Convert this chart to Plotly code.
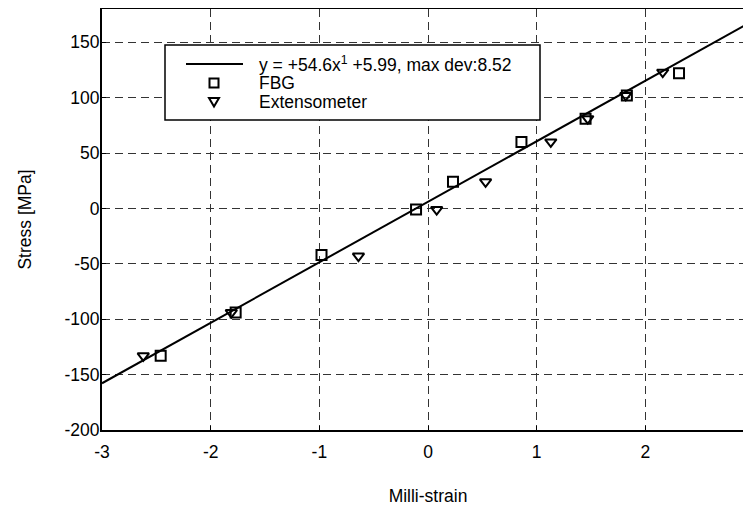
import plotly.graph_objects as go

# Data
fbg_strain = [-2.46, -1.77, -0.98, -0.11, 0.23, 0.86, 1.45, 1.83, 2.31]
fbg_stress = [-133, -94, -42, -1, 24, 60, 81, 102, 122]
ext_strain = [-2.62, -1.81, -0.64, 0.08, 0.53, 1.13, 1.47, 1.82, 2.16]
ext_stress = [-133, -94, -43, -1, 24, 60, 81, 102, 123]

fit_slope = 54.6
fit_intercept = 5.99
fit_x = [-3, 3]
fit_y = [fit_slope * x + fit_intercept for x in fit_x]

x_ticks = [-3, -2, -1, 0, 1, 2, 3]
x_ticktext = ["-3", "-2", "-1", "0", "1", "2", "3"]
y_ticks = [-200, -150, -100, -50, 0, 50, 100, 150]
y_ticktext = ["-200", "-150", "-100", "-50", "0", "50", "100", "150"]

legend_labels = ["y = +54.6x<sup>1</sup> +5.99, max dev:8.52", "FBG", "Extensometer"]

FONT = "Liberation Sans, Arial, sans-serif"
FS = 17.5

# layout geometry (figure pixels)
W, H = 751, 498
ML, MR, MT, MB = 94, 5, 1, 76
PW, PH = W - ML - MR, H - MT - MB


def px(x):
    return (x - ML) / PW


def py(y):
    return (H - MB - y) / PH


fig = go.Figure()
fig.add_trace(go.Scatter(
    x=fit_x, y=fit_y, mode="lines",
    line=dict(color="black", width=2),
    name=legend_labels[0],
))
fig.add_trace(go.Scatter(
    x=fbg_strain, y=fbg_stress, mode="markers",
    marker=dict(symbol="square-open", size=10, color="black", line=dict(width=2)),
    name=legend_labels[1],
))
fig.add_trace(go.Scatter(
    x=ext_strain, y=ext_stress, mode="markers",
    marker=dict(symbol="triangle-down-open", size=10, color="black", line=dict(width=2)),
    name=legend_labels[2],
))

axis_common = dict(
    showline=True, linecolor="black", linewidth=2, mirror=True,
    ticks="inside", ticklen=4, tickcolor="black",
    showgrid=True, gridcolor="#333333", griddash="8px,5px", gridwidth=1,
    zeroline=False, automargin=False,
    tickfont=dict(family=FONT, size=FS, color="black"),
)

# Hand-drawn legend box (matches the compact MATLAB legend)
box_l, box_r, box_t, box_b = 157, 532, 37, 112
row_y = [56, 75, 94]
sym_x = 206
text_x = 249
shapes = [
    dict(type="rect", xref="paper", yref="paper",
         x0=px(box_l), x1=px(box_r), y0=py(box_b), y1=py(box_t),
         line=dict(color="black", width=1.5), fillcolor="white", layer="above"),
    dict(type="line", xref="paper", yref="paper",
         x0=px(178), x1=px(235), y0=py(row_y[0]), y1=py(row_y[0]),
         line=dict(color="black", width=2), layer="above"),
    dict(type="rect", xref="paper", yref="paper",
         x0=px(sym_x - 4.5), x1=px(sym_x + 4.5),
         y0=py(row_y[1] + 4.5), y1=py(row_y[1] - 4.5),
         line=dict(color="black", width=2), layer="above"),
    dict(type="path", xref="paper", yref="paper",
         path=(f"M {px(sym_x - 5)} {py(row_y[2] - 4)} L {px(sym_x + 5)} {py(row_y[2] - 4)} "
               f"L {px(sym_x)} {py(row_y[2] + 4.5)} Z"),
         line=dict(color="black", width=2), layer="above"),
]
annotations = [
    dict(text=lab, xref="paper", yref="paper", x=px(text_x), y=py(yy),
         xanchor="left", yanchor="middle", showarrow=False,
         font=dict(family=FONT, size=FS, color="black"))
    for lab, yy in zip(legend_labels, row_y)
]

fig.update_layout(
    width=W, height=H,
    margin=dict(l=ML, r=MR, t=MT, b=MB),
    paper_bgcolor="white", plot_bgcolor="white",
    font=dict(family=FONT, color="black"),
    showlegend=False,
    shapes=shapes,
    annotations=annotations,
    xaxis=dict(
        range=[-3, 3], tickvals=x_ticks, ticktext=x_ticktext,
        ticklabelstandoff=5,
        title=dict(text="Milli-strain", font=dict(family=FONT, size=FS), standoff=29),
        **axis_common,
    ),
    yaxis=dict(
        range=[-200, 180], tickvals=y_ticks, ticktext=y_ticktext,
        ticklabelstandoff=-3,
        title=dict(text="Stress [MPa]", font=dict(family=FONT, size=FS), standoff=28),
        **axis_common,
    ),
)

fig.write_html("out.html")
